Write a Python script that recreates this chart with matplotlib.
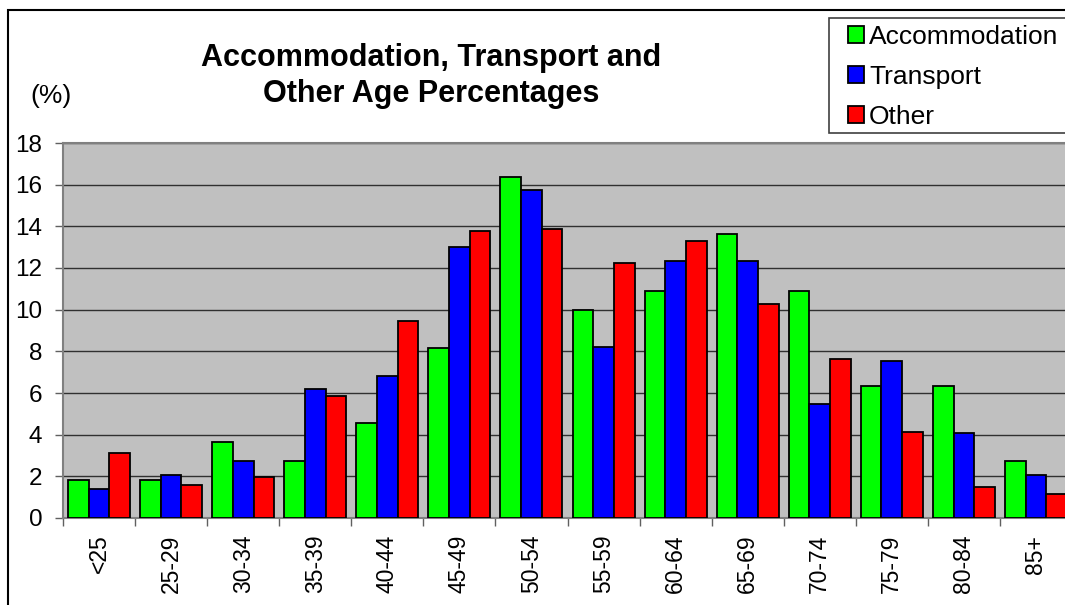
import numpy as np
import matplotlib.pyplot as plt
from matplotlib.patches import Rectangle

plt.rcParams['font.family'] = ['Liberation Sans', 'DejaVu Sans']

age_groups = ['<25', '25-29', '30-34', '35-39', '40-44', '45-49', '50-54',
              '55-59', '60-64', '65-69', '70-74', '75-79', '80-84', '85+']
accommodation = [1.81, 1.81, 3.64, 2.72, 4.54, 8.17, 16.35, 9.98, 10.90, 13.62, 10.90, 6.35, 6.35, 2.72]
transport = [1.38, 2.05, 2.76, 6.17, 6.84, 13.01, 15.75, 8.21, 12.32, 12.32, 5.46, 7.55, 4.10, 2.05]
other = [3.11, 1.59, 1.99, 5.88, 9.47, 13.78, 13.86, 12.26, 13.29, 10.27, 7.63, 4.12, 1.51, 1.17]

series = [('Accommodation', accommodation, '#00ff00'),
          ('Transport', transport, '#0000ff'),
          ('Other', other, '#ff0000')]

W, H = 1065, 605
fig = plt.figure(figsize=(W / 100, H / 100), dpi=100)
ax = fig.add_axes([63 / W, 87 / H, 1009 / W, 375 / H])
ax.set_facecolor('#c0c0c0')

x = np.arange(len(age_groups))
bw = 0.287
for i, (name, vals, col) in enumerate(series):
    ax.bar(x + (i - 1) * bw, vals, bw, color=col, edgecolor='black',
           linewidth=1.3, label=name, zorder=3)

ax.set_xlim(-0.5, len(age_groups) - 0.5)
ax.set_ylim(0, 18)
ax.set_yticks(np.arange(0, 19, 2))
ax.yaxis.grid(True, color='#303030', linewidth=1.0, zorder=1)
ax.tick_params(axis='y', labelsize=17.5, length=6, width=1, color='#606060', pad=9)

ax.set_xticks(np.arange(len(age_groups) + 1) - 0.5)
ax.set_xticklabels([])
ax.set_xticks(x, minor=True)
ax.set_xticklabels(age_groups, minor=True, rotation=90, fontsize=16.5)
ax.tick_params(axis='x', which='major', length=6, width=1, color='#606060')
ax.tick_params(axis='x', which='minor', length=0, pad=12)

for s in ax.spines.values():
    s.set_color('#808080')
    s.set_linewidth(1.5)

fig.text(431 / W, 1 - 76 / H, 'Accommodation, Transport and\nOther Age Percentages',
         ha='center', va='center', fontsize=22, fontweight='bold', linespacing=1.3)
fig.text(51 / W, 1 - 96 / H, '(%)', ha='center', va='center', fontsize=19)

# outer chart frame (right and bottom edges fall outside the picture)
fig.add_artist(Rectangle((8 / W, -0.1), 1.2, 1.1 - 10 / H, transform=fig.transFigure,
                         fill=False, edgecolor='black', linewidth=1.5))

# legend box drawn separately so it can run off the right edge
fig.add_artist(Rectangle((829 / W, 1 - 133 / H), 0.3, 115 / H, transform=fig.transFigure,
                         facecolor='white', edgecolor='#404040', linewidth=1.2))
leg = fig.legend(loc='upper left', bbox_to_anchor=(840 / W, 1 - 17 / H),
                 borderaxespad=0, fontsize=19, frameon=False,
                 handlelength=0.6, handleheight=0.6, handletextpad=0.2,
                 labelspacing=0.6, borderpad=0.3)

fig.savefig('out.png', dpi=100)
